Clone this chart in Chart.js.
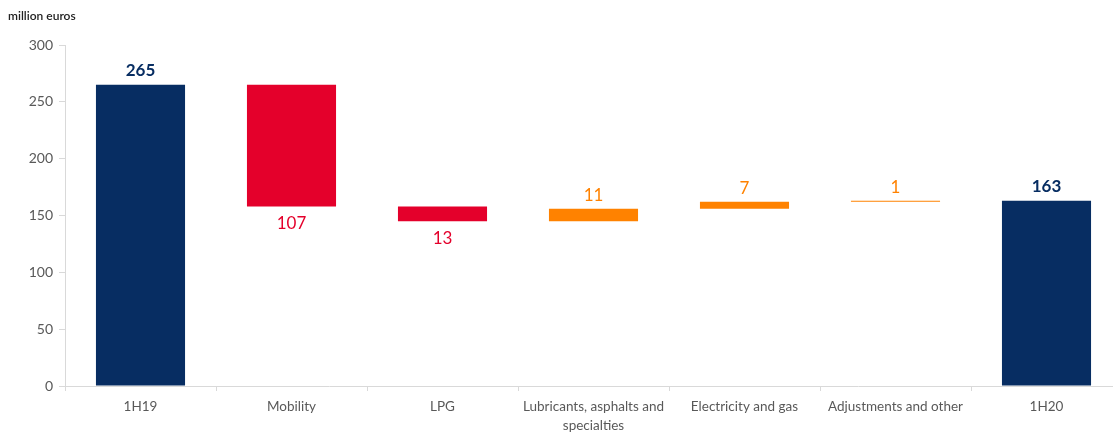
<!DOCTYPE html>
<html>
<head>
<meta charset="utf-8">
<script src="https://cdn.jsdelivr.net/npm/chart.js@4"></script>
<style>
  html, body { margin: 0; padding: 0; background: #fff; overflow: hidden; }
  #wrap { position: relative; width: 1124px; height: 435px; }
  #unit { position: absolute; left: 8px; top: 8px; font: 600 12px Lato, sans-serif; color: #222; }
</style>
</head>
<body>
<div id="wrap">
  <div id="unit">million euros</div>
  <canvas id="chart"></canvas>
</div>
<script>
// waterfall: 1H19 -> 1H20
const categories = ['1H19', 'Mobility', 'LPG', ['Lubricants, asphalts and', 'specialties'], 'Electricity and gas', 'Adjustments and other', '1H20'];
const barStarts = [0, 158, 145, 145, 156, 162, 0];
const barEnds = [265, 265, 158, 156, 162, 163, 163];
const barLabels = ['265', '107', '13', '11', '7', '1', '163'];
const barKinds = ['total', 'down', 'down', 'up', 'up', 'up', 'total'];
const yTicks = [0, 50, 100, 150, 200, 250, 300];

const NAVY = '#072D62';
const RED = '#E4002B';
const ORANGE = '#FF8200';
const kindColor = { total: NAVY, down: RED, up: ORANGE };

const valueLabelPlugin = {
    id: 'valueLabels',
    afterDatasetsDraw: (chart) => {
        const { ctx } = chart;
        const meta = chart.getDatasetMeta(0);
        ctx.save();
        ctx.textAlign = 'center';
        ctx.textBaseline = 'middle';
        meta.data.forEach((bar, i) => {
            const kind = barKinds[i];
            const top = Math.min(bar.y, bar.base);
            const bottom = Math.max(bar.y, bar.base);
            ctx.fillStyle = kindColor[kind];
            ctx.font = (kind === 'total' ? 'bold ' : '') + '17px Lato, sans-serif';
            let y;
            if (kind === 'down') y = bottom + 17;
            else if (kind === 'up') y = top - 13;
            else y = top - 14;
            ctx.fillText(barLabels[i], bar.x, y);
        });
        ctx.restore();
    }
};

new Chart(document.getElementById('chart'), {
    type: 'bar',
    data: {
        labels: categories,
        datasets: [{
            data: barStarts.map((s, i) => [s, barEnds[i]]),
            backgroundColor: barKinds.map(k => kindColor[k]),
            borderWidth: 0,
            barPercentage: 0.59,
            categoryPercentage: 1
        }]
    },
    options: {
        responsive: true,
        maintainAspectRatio: false,
        animation: false,
        layout: { padding: { top: 45, right: 2, left: 0, bottom: 0 } },
        plugins: {
            legend: { display: false },
            tooltip: { enabled: false }
        },
        scales: {
            x: {
                afterFit: (scale) => { scale.height = 49; },
                border: { color: '#d9d9d9', width: 1 },
                grid: { drawOnChartArea: false, color: '#d9d9d9', tickLength: 5, offset: true },
                ticks: { color: '#595959', font: { family: 'Lato', size: 13.5, lineHeight: 1.4 }, maxRotation: 0, autoSkip: false, padding: 6 }
            },
            y: {
                min: 0,
                max: 300,
                afterFit: (scale) => { scale.width = 65; },
                afterBuildTicks: (scale) => { scale.ticks = yTicks.map(v => ({ value: v })); },
                border: { color: '#d9d9d9', width: 1 },
                grid: { drawOnChartArea: false, color: '#d9d9d9', tickLength: 6 },
                ticks: { color: '#595959', font: { family: 'Lato', size: 14 }, padding: 6 }
            }
        }
    },
    plugins: [valueLabelPlugin]
});
</script>
</body>
</html>
